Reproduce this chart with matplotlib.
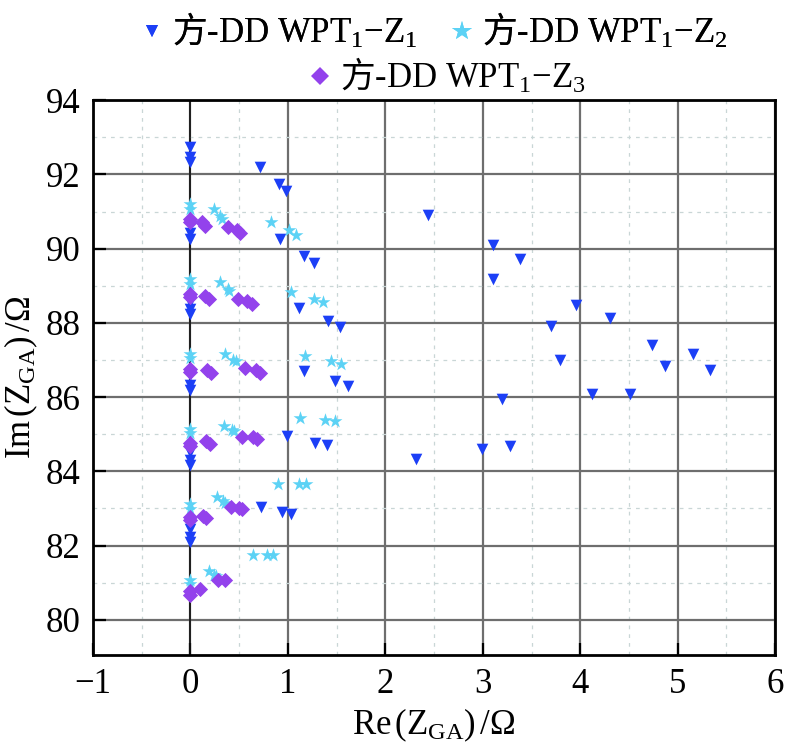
import matplotlib
matplotlib.use("Agg")
import matplotlib.pyplot as plt
from matplotlib.lines import Line2D
from matplotlib.ticker import MultipleLocator

plt.rcParams['font.family'] = ['Liberation Serif', 'Noto Sans CJK SC', 'DejaVu Serif']
plt.rcParams['mathtext.fontset'] = 'custom'
plt.rcParams['mathtext.rm'] = 'Liberation Serif'
plt.rcParams['mathtext.it'] = 'Liberation Serif:italic'
plt.rcParams['mathtext.sf'] = 'Noto Sans CJK SC'

# ---------------- data ----------------
labels = [r"$\mathsf{方}$-DD WPT$_\mathregular{1}$−Z$_\mathregular{1}$",
          r"$\mathsf{方}$-DD WPT$_\mathregular{1}$−Z$_\mathregular{2}$",
          r"$\mathsf{方}$-DD WPT$_\mathregular{1}$−Z$_\mathregular{3}$"]

z1_re = [0, 0, 0, 0, 0, 0, 0, 0, 0, 0, 0, 0, 0, 0, 0, 0, 0,
         0.717, 0.905, 0.984, 0.922, 1.163, 1.265, 1.111, 1.413, 1.54,
         1.163, 1.488, 1.619, 0.991, 1.276, 1.403, 0.727, 0.939, 1.032,
         2.441, 3.10, 3.382, 3.11, 3.958, 4.31, 3.704, 3.796, 4.733,
         5.158, 4.87, 5.33, 4.12, 4.51, 3.195, 2.31, 2.99, 3.28]
z1_im = [92.74, 92.47, 92.34, 90.41, 90.27, 88.55, 88.38, 88.25, 86.59,
         86.32, 86.18, 84.52, 84.30, 84.16, 82.45, 82.23, 82.09,
         92.20, 91.75, 91.55, 90.25, 89.80, 89.61, 88.40, 88.04, 87.89,
         86.70, 86.43, 86.29, 84.94, 84.77, 84.70, 83.04, 82.91, 82.86,
         90.90, 90.11, 89.71, 89.19, 88.47, 88.13, 87.91, 87.01, 87.41,
         87.15, 86.84, 86.72, 86.08, 86.08, 85.96, 84.34, 84.61, 84.68]

z2_re = [0, 0, 0, 0, 0, 0, 0, 0, 0, 0, 0, 0,
         0.247, 0.305, 0.322, 0.826, 1.015, 1.087,
         0.305, 0.384, 0.401, 1.032, 1.265, 1.358,
         0.357, 0.442, 0.47, 1.173, 1.443, 1.55,
         0.347, 0.425, 0.453, 1.128, 1.385, 1.488,
         0.898, 1.111, 1.19, 0.271, 0.34, 0.357,
         0.638, 0.785, 0.844, 0.192, 0.244, 0.26]
z2_im = [91.20, 91.08, 89.18, 89.06, 87.17, 87.06, 85.15, 85.02, 83.11, 82.99, 81.08, 80.97,
         91.06, 90.87, 90.81, 90.72, 90.50, 90.38,
         89.09, 88.90, 88.85, 88.83, 88.64, 88.55,
         87.15, 86.99, 86.97, 87.11, 86.97, 86.90,
         85.22, 85.12, 85.09, 85.45, 85.39, 85.36,
         83.67, 83.67, 83.67, 83.31, 83.19, 83.16,
         81.74, 81.76, 81.76, 81.31, 81.20, 81.17]

z3_re = [0, 0, 0, 0, 0, 0, 0, 0, 0, 0, 0, 0,
         0.117, 0.15, 0.391, 0.476, 0.511,
         0.15, 0.19, 0.494, 0.586, 0.631,
         0.168, 0.21, 0.562, 0.672, 0.717,
         0.158, 0.203, 0.527, 0.638, 0.682,
         0.134, 0.161, 0.419, 0.5, 0.535,
         0.1, 0.288, 0.357]
z3_im = [90.81, 90.72, 88.79, 88.70, 86.77, 86.68, 84.77, 84.67, 82.77, 82.68, 80.77, 80.66,
         90.72, 90.61, 90.59, 90.51, 90.41,
         88.72, 88.63, 88.65, 88.58, 88.50,
         86.74, 86.66, 86.79, 86.72, 86.65,
         84.82, 84.73, 84.93, 84.93, 84.86,
         82.81, 82.75, 83.04, 83.02, 82.99,
         80.82, 81.06, 81.06]

x_ticks = [-1, 0, 1, 2, 3, 4, 5, 6]
y_ticks = [80, 82, 84, 86, 88, 90, 92, 94]

c1, c2, c3 = '#1c3ff6', '#5cd2f5', '#9342ec'

# ---------------- figure ----------------
fig = plt.figure(figsize=(7.87, 7.53), dpi=100)
ax = fig.add_axes([0.118, 0.130, 0.867, 0.737])

ax.set_xlim(-1, 6)
ax.set_ylim(79.05, 94)
ax.set_xticks(x_ticks)
ax.set_yticks(y_ticks)
ax.xaxis.set_minor_locator(MultipleLocator(0.5))
ax.yaxis.set_minor_locator(MultipleLocator(1))

ax.grid(which='major', color='#6e6e6e', lw=1.6, zorder=0)
ax.grid(which='minor', color='#c9d6d6', lw=0.9, ls=(0, (3, 4)), zorder=0)
ax.axvline(0, color='#111111', lw=1.2, zorder=1)
ax.set_axisbelow(True)

ax.tick_params(which='major', direction='in', length=9, width=1.6,
               labelsize=25, pad=9)
ax.tick_params(which='minor', length=0)
for s in ax.spines.values():
    s.set_linewidth(2.0)
    s.set_color('black')

ax.scatter(z1_re, z1_im, marker='v', s=70, color=c1, lw=0, zorder=3)
ax.scatter(z2_re, z2_im, marker='*', s=110, color=c2, lw=0, zorder=4)
ax.scatter(z3_re, z3_im, marker='D', s=60, color=c3, lw=0, zorder=5)

ax.set_xlabel(r"Re$\,$(Z$_\mathregular{GA}$)$\,$/Ω", fontsize=25, labelpad=4)
ax.set_ylabel(r"Im$\,$(Z$_\mathregular{GA}$)$\,$/Ω", fontsize=25, labelpad=4)

h1 = Line2D([], [], ls='none', marker='v', ms=8, color=c1, mew=0)
h2 = Line2D([], [], ls='none', marker='*', ms=15, color=c2, mew=0)
h3 = Line2D([], [], ls='none', marker='D', ms=9, color=c3, mew=0)

leg1 = fig.legend([h1, h2], labels[:2], ncol=2, loc='center',
                  bbox_to_anchor=(0.553, 0.958), frameon=False, fontsize=25,
                  handlelength=0.55, handletextpad=0.3, columnspacing=1.0,
                  borderaxespad=0)
fig.add_artist(leg1)
fig.legend([h3], labels[2:], loc='center', bbox_to_anchor=(0.57, 0.898),
           frameon=False, fontsize=25, handlelength=0.55, handletextpad=0.3,
           borderaxespad=0)

fig.savefig('out.png', dpi=100)
